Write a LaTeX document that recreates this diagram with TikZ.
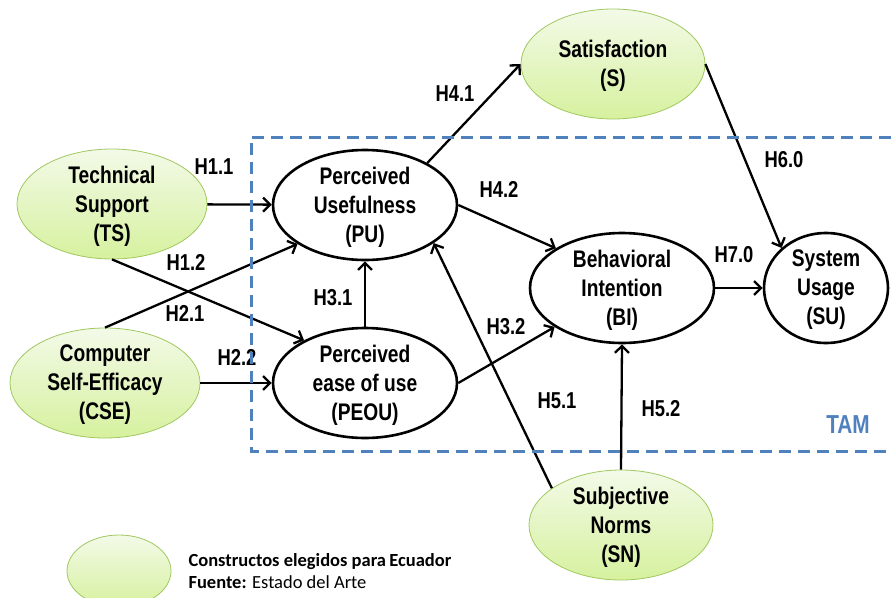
\documentclass[tikz,border=0pt]{standalone}
\usepackage{fontspec}
\setmainfont{Liberation Sans}[FakeStretch=0.8]
\newfontfamily\legendfont{Carlito}
\usepackage{tikz}
\usetikzlibrary{arrows.meta,shapes.geometric}
\usepackage{xcolor}
\definecolor{tamblue}{RGB}{79,129,189}
\definecolor{gtop}{RGB}{243,250,232}
\definecolor{gbot}{RGB}{214,241,158}
\definecolor{gline}{RGB}{160,200,95}

\begin{document}
\begin{tikzpicture}[x=1pt,y=-1pt,
    cons/.style={ellipse,inner sep=0pt,minimum width=184pt,minimum height=110pt},
    tamcons/.style={cons,draw=black,line width=2.6pt,fill=white},
    chosen/.style={cons,draw=gline,line width=0.8pt,top color=gtop,bottom color=gbot},
    ctext/.style={align=center,yshift=-2pt,font=\fontsize{24}{29}\selectfont\bfseries},
    hyp/.style={font=\fontsize{23}{27}\selectfont\bfseries},
    arr/.style={line width=2.3pt,-{Straight Barb[length=7pt,width=14pt]}}]
  \useasboundingbox (0,0) rectangle (891,597);

  % constructs
  \node[chosen,minimum width=190pt,label={[ctext]center:{Technical\\Support\\(TS)}}] (ts) at (112,204) {};
  \node[chosen,minimum width=190pt,label={[ctext]center:{Computer\\Self-Efficacy\\(CSE)}}] (cse) at (105,383) {};
  \node[tamcons,label={[ctext]center:{Perceived\\Usefulness\\(PU)}}] (pu) at (365,205) {};
  \node[tamcons,label={[ctext]center:{Perceived\\ease of use\\(PEOU)}}] (peou) at (365,383) {};
  \node[chosen,label={[ctext]center:{Satisfaction\\(S)}}] (s) at (613,64) {};
  \node[tamcons,label={[ctext]center:{Behavioral\\Intention\\(BI)}}] (bi) at (622,288) {};
  \node[tamcons,minimum width=124pt,label={[ctext]center:{System\\Usage\\(SU)}}] (su) at (826,288) {};
  \node[chosen,label={[ctext]center:{Subjective\\Norms\\(SN)}}] (sn) at (621,525) {};

  % hypotheses
  \foreach \a/\b in {ts/pu, ts.south/peou.145, cse.north/pu.210, cse/peou,
                     peou/pu, pu.34/s.west, pu.east/bi.149, peou.east/bi.210,
                     sn.152/pu.331, sn.north/bi.south, s.east/su.138, bi/su}
    \draw[arr] (\a) -- (\b);
  \foreach \t/\x/\y [count=\k] in {H1.1/214/167, H1.2/186/262, H2.1/185/313,
                     H2.2/237/357, H3.1/333/298, H4.1/455/94, H4.2/499/189,
                     H3.2/506/327, H5.1/557/401, H5.2/661/409, H6.0/784/160,
                     H7.0/734/255}
    \node[hyp] (hyp\k) at (\x,\y) {\t};

  % TAM frame
  \draw[tamblue,line width=3pt,dash pattern=on 12pt off 7pt]
    (891,137) -- (251,137) -- (251,451) -- (891,451);
  \node[tamblue,font=\fontsize{26}{30}\selectfont\bfseries] (tamlab) at (848,425) {TAM};

  % legend
  \node[chosen,minimum width=104pt,minimum height=72pt] (key) at (119,571) {};
  \node[anchor=west,align=left,font=\fontsize{18.5}{22}\selectfont\legendfont] (keytext) at (185,571)
    {\textbf{Constructos elegidos para\kern-1pt{} Ecuador}\\\textbf{Fuente:} Estado del Arte};
\end{tikzpicture}
\end{document}
